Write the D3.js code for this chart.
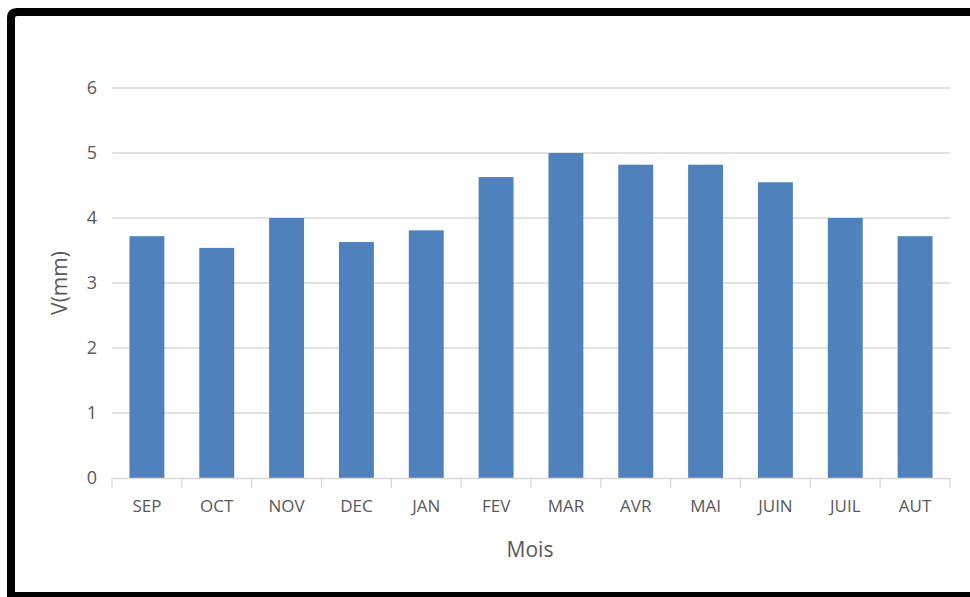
<!DOCTYPE html>
<html>
<head>
<meta charset="utf-8">
<script src="https://cdn.jsdelivr.net/npm/d3@7"></script>
<style>
  body { margin: 0; background: #fff; overflow: hidden; }
  svg { display: block; font-family: "Open Sans", sans-serif; }
</style>
</head>
<body>
<svg id="chart" width="970" height="597"></svg>
<script>
// monthly values
var months = ["SEP", "OCT", "NOV", "DEC", "JAN", "FEV", "MAR", "AVR", "MAI", "JUIN", "JUIL", "AUT"];
var values = [3.72, 3.54, 4.0, 3.63, 3.81, 4.63, 5.0, 4.82, 4.82, 4.55, 4.0, 3.72];
var yTicks = [0, 1, 2, 3, 4, 5, 6];

var svg = d3.select("#chart"),
    margin = {left: 112, top: 88};

// frame: top, left and bottom edges only (right side is cut off)
svg.append("path")
    .attr("d", "M1200,12 H17 Q11,12 11,18 V596 H1200")
    .attr("fill", "none")
    .attr("stroke", "#000")
    .attr("stroke-width", 8);

var g = svg.append("g").attr("transform", "translate(" + margin.left + "," + margin.top + ")");

var x = d3.scaleBand().domain(months).range([0, 838]).paddingInner(0.5).paddingOuter(0.25);
var y = d3.scaleLinear().domain([0, 6]).range([390, 0]);

// gridlines
g.selectAll(".grid")
    .data(yTicks.filter(function (d) { return d > 0; }))
    .enter().append("line")
    .attr("x1", 0).attr("x2", 838)
    .attr("y1", function (d) { return y(d); })
    .attr("y2", function (d) { return y(d); })
    .attr("stroke", "#d9d9d9")
    .attr("stroke-width", 1.3);

// bars
g.selectAll(".bar")
    .data(values)
    .enter().append("rect")
    .attr("x", function (d, i) { return x(months[i]); })
    .attr("width", x.bandwidth())
    .attr("y", function (d) { return y(d); })
    .attr("height", function (d) { return y(0) - y(d); })
    .attr("fill", "#4f81bd");

// x axis
var xAxis = g.append("g")
    .attr("transform", "translate(0," + y(0) + ")")
    .call(d3.axisBottom(x).tickSize(0).tickPadding(22));
xAxis.attr("font-family", null).attr("font-size", 17);
xAxis.select(".domain").attr("stroke", "#d9d9d9").attr("stroke-width", 1.3);
xAxis.selectAll("text").attr("fill", "#595959");

// category separators
var step = x.step();
g.selectAll(".sep")
    .data(d3.range(months.length + 1))
    .enter().append("line")
    .attr("x1", function (i) { return i * step; })
    .attr("x2", function (i) { return i * step; })
    .attr("y1", y(0)).attr("y2", y(0) + 10)
    .attr("stroke", "#d9d9d9")
    .attr("stroke-width", 1.3);

// y axis
var yAxis = g.append("g")
    .call(d3.axisLeft(y).tickValues(yTicks).tickFormat(d3.format("d")).tickSize(0).tickPadding(15));
yAxis.attr("font-family", null).attr("font-size", 18);
yAxis.select(".domain").remove();
yAxis.selectAll("text").attr("fill", "#595959");

// axis titles
svg.append("text")
    .attr("x", 530).attr("y", 557)
    .attr("text-anchor", "middle")
    .attr("fill", "#595959")
    .style("font-size", "21px")
    .text("Mois");

svg.append("text")
    .attr("transform", "translate(67,283) rotate(-90)")
    .attr("text-anchor", "middle")
    .attr("fill", "#595959")
    .style("font-size", "21px")
    .text("V(mm)");
</script>
</body>
</html>
